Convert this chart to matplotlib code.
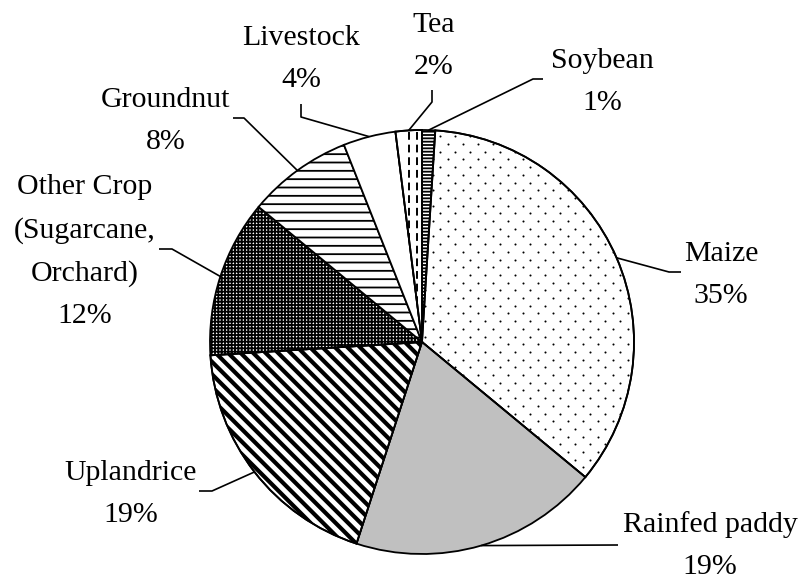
import numpy as np
import matplotlib.pyplot as plt
from matplotlib.collections import LineCollection
from matplotlib.patches import PathPatch

plt.rcParams['font.family'] = ['Liberation Serif', 'DejaVu Serif']
plt.rcParams['hatch.linewidth'] = 1.3
plt.rcParams['hatch.color'] = 'black'

# Data (clockwise from 12 o'clock)
categories = ["Soybean", "Maize", "Rainfed paddy", "Uplandrice",
              "Other Crop\n(Sugarcane,\nOrchard)", "Groundnut", "Livestock", "Tea"]
shares = [1, 35, 19, 19, 12, 8, 4, 2]

# Styling per slice
face = ['white', 'white', '#c0c0c0', 'white', 'white', 'white', 'white', 'white']
hatches = ['-----', None, None, None, '+++++', '--', None, None]

# Label layout in pixels: (centre x, baseline of last line) and leader bends
label_pos = [(602, 110), (721, 303), (710, 574), (131, 522),
             (85, 323), (166, 149), (301, 87), (434, 74)]
leader_bends = [[(533, 79), (543, 79)], [(669, 272), (681, 272)], [(618, 545)],
                [(212, 491), (199, 491)], [(172, 249), (159, 249)],
                [(244, 118), (233, 118)], [(301, 117), (301, 104)],
                [(432, 102), (432, 90)]]

W, H = 807, 582
CX, CY, R = 422, 342, 212


def px(x, y):
    return (x - CX) / R, (CY - y) / R


fig = plt.figure(figsize=(W / 100, H / 100), dpi=100)
ax = fig.add_axes([0, 0, 1, 1])

wedges, _ = ax.pie(shares, startangle=90, counterclock=False, radius=1,
                   colors=face,
                   wedgeprops=dict(edgecolor='black', linewidth=1.3))
for w, h in zip(wedges, hatches):
    if h:
        w.set_hatch(h)

# Maize: sparse staggered dots
mz = wedges[1]
dx, dy = 15 / R, 7.7 / R
pts = []
for i, yv in enumerate(np.arange(-1.1, 1.1, dy)):
    off = dx / 2 if i % 2 else 0
    for xv in np.arange(-0.02 + off, 1.1, dx):
        pts.append((xv, yv))
pts = np.array(pts)
dots = ax.scatter(pts[:, 0], pts[:, 1], s=2.2, color='black', linewidths=0,
                  zorder=mz.get_zorder() + 0.1)
dots.set_clip_path(mz)

# Uplandrice: bold diagonal stripes
up = wedges[3]
cs = np.arange(-2.5, 2.5, 0.059)
segs = [[(-1.5, c + 1.5), (1.5, c - 1.5)] for c in cs]
lc = LineCollection(segs, colors='black', linewidths=3.0, zorder=up.get_zorder() + 0.1)
ax.add_collection(lc)
lc.set_clip_path(up)

# Tea: dashed vertical lines
tea = wedges[7]
xs = [-0.024, -0.062]
tl = ax.vlines(xs, 0, 1.05, colors='black', linewidth=1.4,
               linestyles=(0, (4, 2.5)), zorder=tea.get_zorder() + 0.1)
tl.set_clip_path(tea)

# redraw outlines on top of the textures
for w in (mz, up, tea):
    ax.add_patch(PathPatch(w.get_path(), fill=False, edgecolor='black',
                           linewidth=1.3, zorder=w.get_zorder() + 0.2))

# Labels and leader lines
for w, cat, val, pos, bends in zip(wedges, categories, shares, label_pos, leader_bends):
    mid = np.deg2rad((w.theta1 + w.theta2) / 2)
    pts = [(np.cos(mid), np.sin(mid))] + [px(*b) for b in bends]
    xx, yy = zip(*pts)
    ax.plot(xx, yy, color='black', linewidth=1.2, solid_capstyle='butt')
    tx, ty = px(*pos)
    ax.text(tx, ty, f"{cat}\n{val}%", ha='center', va='baseline',
            fontsize=21.5, linespacing=1.8, multialignment='center')

ax.set_xlim(-CX / R, (W - CX) / R)
ax.set_ylim((CY - H) / R, CY / R)
ax.set_aspect('auto')
ax.axis('off')

fig.savefig('out.png', dpi=100)
